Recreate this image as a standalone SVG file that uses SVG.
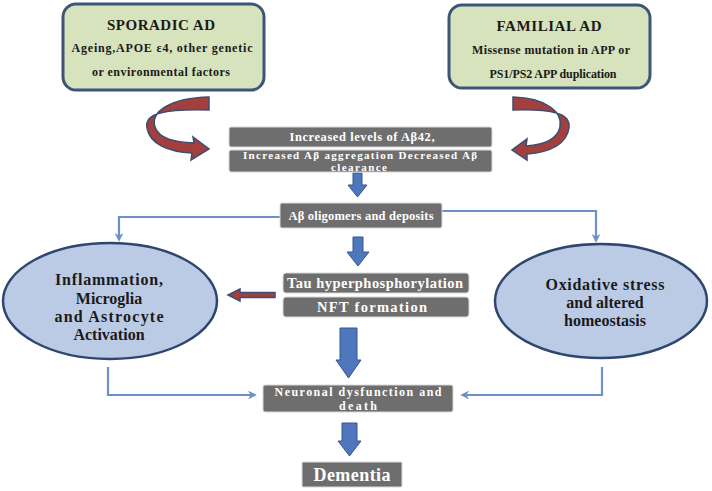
<svg xmlns="http://www.w3.org/2000/svg" width="712" height="491" viewBox="0 0 712 491">
<defs>
<style>
.src{fill:#d6e3bc;stroke:#3d5577;stroke-width:3}
.gbox{fill:#6e6e6e;stroke:#d9d9d9;stroke-width:1}
.ell{fill:#bccbe5;stroke:#2e4670;stroke-width:2.5}
.t{font-family:"Liberation Serif",serif;font-weight:bold;text-anchor:middle}
.dark{fill:#1a1a1a}
.white{fill:#ffffff}
.conn{fill:none;stroke:#6f8fcb;stroke-width:2.2}
.big{fill:#4f77bd;stroke:#36558f;stroke-width:1}
.red{fill:#a33f3c;stroke:#3b4f73;stroke-width:1.5}
</style>
<marker id="ah" viewBox="0 0 10 10" refX="8" refY="5" markerWidth="4" markerHeight="4" orient="auto">
<path d="M0,0 L10,5 L0,10 L3,5 Z" fill="#6f8fcb"/>
</marker>
</defs>
<rect width="712" height="491" fill="#ffffff"/>

<g id="connectors">
<path class="conn" d="M280,217 H119 V240" marker-end="url(#ah)"/>
<path class="conn" d="M442,211 H596 V241" marker-end="url(#ah)"/>
<path class="conn" d="M108,367 V395 H255" marker-end="url(#ah)"/>
<path class="conn" d="M602,367 V395 H462" marker-end="url(#ah)"/>
<path class="big" d="M353,173 H362 V185 H367 L357.5,197 L348,185 H353 Z"/>
<path class="big" d="M353,237 H363 V252 H369 L358,266 L347,252 H353 Z"/>
<path class="big" d="M340,328 H357 V360 H361 L348.5,378 L336,360 H340 Z"/>
<path class="big" d="M342,423 H357 V441 H361 L349.5,456 L338,441 H342 Z"/>
<path class="red" d="M275,292.5 H240 V289 L228,295 L240,301 V297.5 H275 Z"/>
<path class="red" d="M209,97 C170,98 150,112 155,127 C159,139 175,142 194,143 L193,137 L209,149 L191,160 L192,153 C168,152 150,144 147,128 C144,113 165,109 209,110 Z"/>
<path class="red" d="M513,97 C546,98 563,112 560,127 C557,141 542,145 526,146 L527,139 L512,150 L527,160 L527,154 C552,152 567,143 569,128 C571,113 552,109 513,110 Z"/>
</g>

<g id="sporadic">
<rect class="src" x="63" y="4" width="201" height="86" rx="13"/>
<text class="t dark" x="161" y="30" font-size="15" textLength="108" lengthAdjust="spacing">SPORADIC AD</text>
<text class="t dark" x="162" y="52" font-size="12" textLength="181" lengthAdjust="spacing">Ageing,APOE ε4, other genetic</text>
<text class="t dark" x="161" y="76" font-size="12" textLength="138" lengthAdjust="spacing">or environmental factors</text>
</g>

<g id="familial">
<rect class="src" x="449" y="5" width="201" height="83" rx="13"/>
<text class="t dark" x="549" y="31" font-size="15" textLength="105" lengthAdjust="spacing">FAMILIAL AD</text>
<text class="t dark" x="551" y="54" font-size="12" textLength="158" lengthAdjust="spacing">Missense mutation  in APP or</text>
<text class="t dark" x="553" y="78" font-size="12" textLength="127" lengthAdjust="spacing">PS1/PS2 APP duplication</text>
</g>

<g id="abeta42">
<rect class="gbox" x="229" y="127" width="263" height="20" rx="2"/>
<text class="t white" x="362" y="141" font-size="12.5" textLength="145" lengthAdjust="spacing">Increased levels of  Aβ42,</text>
</g>
<g id="aggregation">
<rect class="gbox" x="229" y="150" width="263" height="22" rx="2"/>
<text class="t white" x="360" y="158.5" font-size="11" textLength="234" lengthAdjust="spacing">Increased  Aβ aggregation  Decreased  Aβ</text>
<text class="t white" x="359" y="170.5" font-size="11" textLength="56" lengthAdjust="spacing">clearance</text>
</g>

<g id="oligomers">
<rect class="gbox" x="280" y="203" width="162" height="25" rx="2"/>
<text class="t white" x="361" y="220" font-size="12.5" textLength="145" lengthAdjust="spacing">Aβ oligomers and deposits</text>
</g>

<g id="tau">
<rect class="gbox" x="283" y="273" width="186" height="20" rx="3"/>
<text class="t white" x="375" y="288" font-size="14.5" textLength="176" lengthAdjust="spacing">Tau hyperphosphorylation</text>
</g>
<g id="nft">
<rect class="gbox" x="283" y="297" width="186" height="20" rx="3"/>
<text class="t white" x="372" y="312" font-size="14.5" textLength="110" lengthAdjust="spacing">NFT formation</text>
</g>

<g id="inflammation">
<ellipse class="ell" cx="110" cy="301" rx="107" ry="58"/>
<text class="t dark" x="109" y="285" font-size="16" textLength="108" lengthAdjust="spacing">Inflammation,</text>
<text class="t dark" x="109" y="304" font-size="16">Microglia</text>
<text class="t dark" x="109" y="322" font-size="16" textLength="109" lengthAdjust="spacing">and  Astrocyte</text>
<text class="t dark" x="109" y="340" font-size="16">Activation</text>
</g>

<g id="oxidative">
<ellipse class="ell" cx="601" cy="301" rx="106" ry="57"/>
<text class="t dark" x="605" y="290" font-size="16" textLength="119" lengthAdjust="spacing">Oxidative stress</text>
<text class="t dark" x="605" y="308" font-size="16">and altered</text>
<text class="t dark" x="605" y="326" font-size="16">homeostasis</text>
</g>

<g id="neuronal">
<rect class="gbox" x="263" y="385" width="190" height="27" rx="2"/>
<text class="t white" x="358" y="396" font-size="12" textLength="167" lengthAdjust="spacing">Neuronal dysfunction and</text>
<text class="t white" x="358" y="409.5" font-size="12" textLength="38" lengthAdjust="spacing">death</text>
</g>

<g id="dementia">
<rect class="gbox" x="302" y="462" width="100" height="25" rx="1"/>
<text class="t white" x="352" y="481" font-size="18" textLength="77" lengthAdjust="spacing">Dementia</text>
</g>
</svg>
